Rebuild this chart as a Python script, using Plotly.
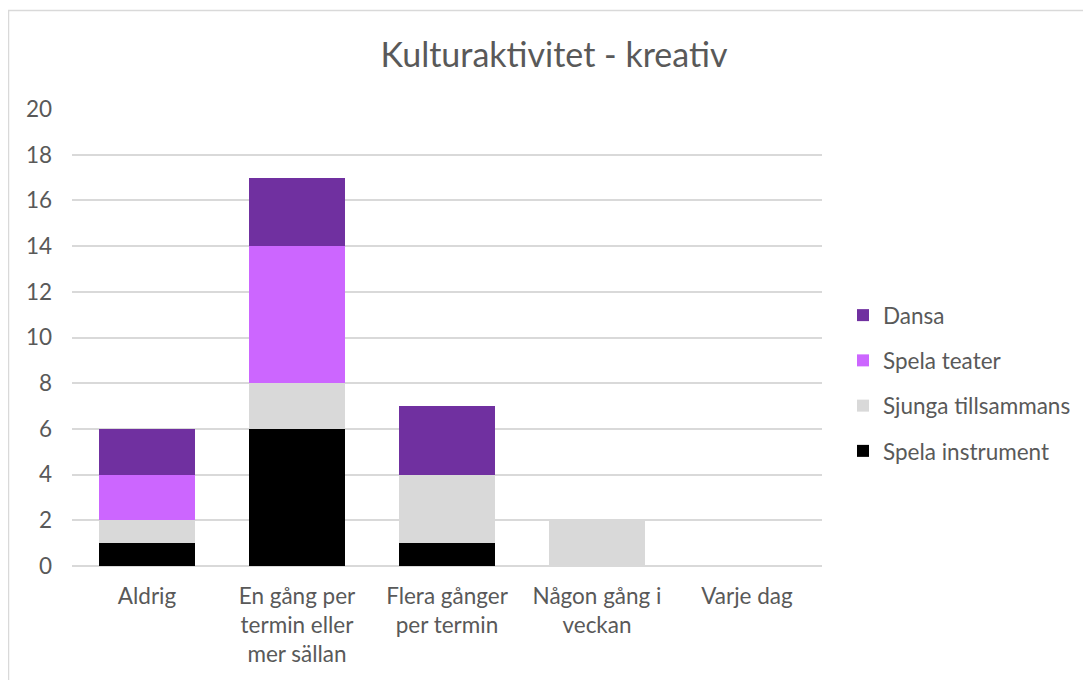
import plotly.graph_objects as go

categories = ["Aldrig", "En gång per<br>termin eller<br>mer sällan", "Flera gånger<br>per termin",
              "Någon gång i<br>veckan", "Varje dag"]
spela_instrument = [1, 6, 1, 0, 0]
sjunga_tillsammans = [1, 2, 3, 2, 0]
spela_teater = [2, 6, 0, 0, 0]
dansa = [2, 3, 3, 0, 0]
y_ticks = [0, 2, 4, 6, 8, 10, 12, 14, 16, 18, 20]

series = [
    ("Spela instrument", spela_instrument, "#000000", 4),
    ("Sjunga tillsammans", sjunga_tillsammans, "#D9D9D9", 3),
    ("Spela teater", spela_teater, "#CC66FF", 2),
    ("Dansa", dansa, "#7030A0", 1),
]

FONT = "Lato"
TXT = "#595959"
FS = 22.5

fig = go.Figure()
for name, vals, col, rank in series:
    fig.add_trace(go.Bar(x=categories, y=vals, name=name, marker_color=col,
                         marker_line_width=0, legendgroup=name, legendrank=rank))

# page body has an 8px margin; figure occupies 8..1091 x 8..680
OFF = 8
W, H = 1091 - OFF, 680 - OFF
L, R, T, B = 72, 822, 109, 566  # target screen coords of plot area
pw, ph = R - L, B - T

fig.update_layout(
    width=W, height=H,
    barmode="stack", bargap=0.36,
    plot_bgcolor="white", paper_bgcolor="white",
    margin=dict(l=L - OFF, r=1091 - R, t=T - OFF, b=680 - B, pad=0),
    font=dict(family=FONT, color=TXT, size=FS),
    title=dict(text="Kulturaktivitet - kreativ", x=(554 - OFF) / W, xanchor="center",
               y=1 - (55 - OFF) / H, yanchor="middle",
               font=dict(family=FONT, size=34, color=TXT)),
    legend=dict(traceorder="grouped", tracegroupgap=13,
                x=(843 - L) / pw, xanchor="left", y=(B - 294) / ph, yanchor="top",
                font=dict(family=FONT, size=FS, color=TXT), itemwidth=30),
    xaxis=dict(showline=False, showgrid=False, ticks="", ticklabelstandoff=14,
               tickfont=dict(size=FS, color=TXT)),
    yaxis=dict(range=[0, 20], tickvals=y_ticks, showgrid=True, gridcolor="#D9D9D9",
               gridwidth=1.5, zeroline=True, zerolinecolor="#D9D9D9", zerolinewidth=1.5,
               showline=False, ticks="", ticklabelstandoff=19,
               tickfont=dict(size=FS, color=TXT)),
    shapes=[dict(type="rect", xref="paper", yref="paper",
                 x0=(8.5 - L) / pw, x1=(1100 - L) / pw,
                 y0=-0.5, y1=(B - 10.5) / ph,
                 line=dict(color="#D9D9D9", width=1.5), fillcolor="rgba(0,0,0,0)", layer="below")],
)

fig.write_html("out.html")
